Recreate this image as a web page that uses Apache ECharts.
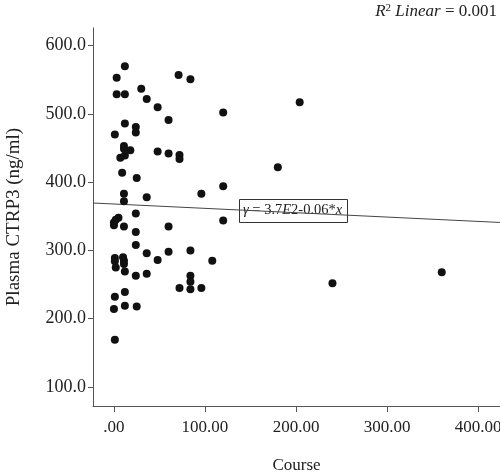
<!DOCTYPE html>
<html>
<head>
<meta charset="utf-8">
<script src="https://cdn.jsdelivr.net/npm/echarts@6/dist/echarts.min.js"></script>
<style>
html,body{margin:0;padding:0;background:#fff;}
#chart{width:500px;height:474px;}
</style>
</head>
<body>
<div id="chart"></div>
<script>
// Course (x) values
const courseX = [12,3,71,84,3,12,30,36,48,120,60,12,24,24,1,11,11,18,7,12,48,60,72,72,9,25,204,180,120,11,36,96,11,5,2,0,0,24,120,11,60,24,24,36,60,84,48,108,1,1,2,10,11,11,12,24,36,84,84,84,72,96,1,12,0,12,25,1,240,360];
// Plasma CTRP3 (ng/ml) values
const ctrp3Y = [570,553,557,551,529,529,537,522,510,502,491,486,481,473,470,453,449,447,436,439,445,442,440,434,414,406,517,422,394,383,378,383,372,348,345,341,337,354,344,335,335,327,308,296,298,300,286,285,289,284,275,290,285,280,269,263,266,263,254,243,245,245,232,239,214,219,218,169,252,268];
// Fit line endpoints (y = 3.7E2 - 0.06*x)
const fitX = [-23, 424];
const fitY = [369.5, 341];
// Tick values
const xTicks = [0, 100, 200, 300, 400];
const yTicks = [100, 200, 300, 400, 500, 600];

const serif = '"Liberation Serif", "DejaVu Serif", serif';
const chart = echarts.init(document.getElementById('chart'), null, {renderer: 'canvas'});

const points = courseX.map((x, i) => [x, ctrp3Y[i]]);
const fit = fitX.map((x, i) => [x, fitY[i]]);

chart.setOption({
  animation: false,
  backgroundColor: '#fff',
  grid: {left: 93, right: 0, top: 28, bottom: 68, containLabel: false, outerBoundsMode: 'none'},
  xAxis: {
    type: 'value', min: -23, max: 424,
    name: 'Course', nameLocation: 'middle', nameGap: 51,
    nameTextStyle: {fontFamily: serif, fontSize: 17, color: '#222'},
    axisLine: {show: true, onZero: false, lineStyle: {color: '#555', width: 1}},
    axisTick: {show: true, length: 6, customValues: xTicks, lineStyle: {color: '#555'}},
    axisLabel: {customValues: xTicks, margin: 13, fontFamily: serif, fontSize: 17, color: '#222',
      formatter: v => v === 0 ? '.00' : v.toFixed(2)},
    splitLine: {show: false}
  },
  yAxis: {
    type: 'value', min: 72, max: 626,
    name: 'Plasma CTRP3 (ng/ml)', nameLocation: 'middle', nameGap: 69, nameRotate: 90,
    nameTextStyle: {fontFamily: serif, fontSize: 19, color: '#222'},
    axisLine: {show: true, onZero: false, lineStyle: {color: '#555', width: 1}},
    axisTick: {show: true, length: 5, customValues: yTicks, lineStyle: {color: '#555'}},
    axisLabel: {customValues: yTicks, margin: 7, fontFamily: serif, fontSize: 18, color: '#222',
      formatter: v => v.toFixed(1)},
    splitLine: {show: false}
  },
  series: [
    {
      type: 'line', data: fit, symbol: 'none', silent: true, z: 1,
      lineStyle: {color: '#444', width: 1}
    },
    {
      type: 'scatter', data: points, symbol: 'circle', symbolSize: 8, z: 3,
      itemStyle: {color: '#111', opacity: 1}
    }
  ],
  graphic: [
    {
      type: 'text', right: 3, top: 3, z: 10,
      style: {
        text: '{i|R}{s|2}{i| Linear}{n| = 0.001}',
        rich: {
          i: {fontFamily: serif, fontSize: 17, fontStyle: 'italic', fill: '#222'},
          s: {fontFamily: serif, fontSize: 11, fill: '#222', verticalAlign: 'top', padding: [0,0,6,0]},
          n: {fontFamily: serif, fontSize: 17, fill: '#222'}
        }
      }
    },
    {
      type: 'group', left: 239, top: 199, z: 10,
      children: [
        {type: 'rect', shape: {x: 0.5, y: 0.5, width: 108, height: 23},
         style: {fill: '#fff', stroke: '#333', lineWidth: 1}},
        {type: 'text', x: 4, y: 4,
         style: {
           text: '{i|γ}{n| = 3.7}{i|E}{n|2-0.06*}{i|x}',
           rich: {
             i: {fontFamily: serif, fontSize: 14.5, fontStyle: 'italic', fill: '#222'},
             n: {fontFamily: serif, fontSize: 14.5, fill: '#222'}
           }
         }}
      ]
    }
  ]
});
</script>
</body>
</html>
